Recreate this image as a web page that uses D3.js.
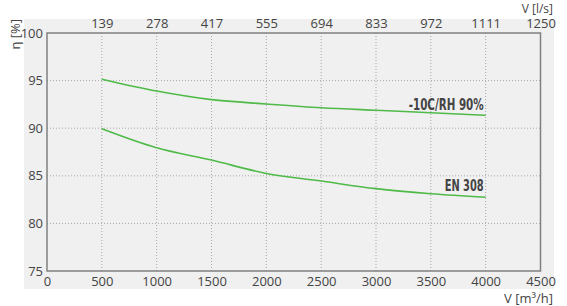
<!DOCTYPE html>
<html>
<head>
<meta charset="utf-8">
<script src="https://cdn.jsdelivr.net/npm/d3@7"></script>
<style>
  body { margin: 0; background: #fff; }
  text { font-family: "Open Sans", "Noto Sans", sans-serif; fill: #444; }
</style>
</head>
<body>
<svg width="567" height="306"></svg>
<script>
// airflow in m3/h
var flow = [500, 1000, 1500, 2000, 2500, 3000, 3500, 4000];
// efficiency [%]
var coldHumid = [95.15, 93.9, 93.0, 92.55, 92.15, 91.88, 91.63, 91.35];
var en308 = [89.95, 87.95, 86.65, 85.25, 84.45, 83.65, 83.12, 82.75];
var seriesNames = ["-10C/RH 90%", "EN 308"];

var bottomTicks = [0, 500, 1000, 1500, 2000, 2500, 3000, 3500, 4000, 4500];
var topTickLabels = ["139", "278", "417", "555", "694", "833", "972", "1111", "1250"];
var yTicks = [75, 80, 85, 90, 95, 100];

var svg = d3.select("svg");
var green = "#4fba48";

var x = d3.scaleLinear().domain([0, 4500]).range([47, 540.5]);
var y = d3.scaleLinear().domain([75, 100]).range([271, 33]);

// grey panel
svg.append("rect")
   .attr("x", 24).attr("y", 19)
   .attr("width", 530).attr("height", 270)
   .attr("fill", "#f0f0f0");

// dotted grid
svg.selectAll(".vgrid")
   .data(bottomTicks.slice(1, -1))
   .enter().append("line")
   .attr("x1", d => x(d)).attr("x2", d => x(d))
   .attr("y1", y(100)).attr("y2", y(75))
   .attr("stroke", "#a8a8a8")
   .attr("stroke-dasharray", "1,2");

svg.selectAll(".hgrid")
   .data(yTicks.slice(1, -1))
   .enter().append("line")
   .attr("x1", x(0)).attr("x2", x(4500))
   .attr("y1", d => y(d)).attr("y2", d => y(d))
   .attr("stroke", "#a8a8a8")
   .attr("stroke-dasharray", "1,2");

// frame
svg.append("rect")
   .attr("x", x(0)).attr("y", y(100))
   .attr("width", x(4500) - x(0)).attr("height", y(75) - y(100))
   .attr("fill", "none")
   .attr("stroke", "#808080")
   .attr("stroke-width", 1.5);

// axes (labels only, no tick marks)
var bottomAxis = d3.axisBottom(x).tickValues(bottomTicks).tickFormat(d3.format("d"))
   .tickSize(0).tickPadding(6);
var gb = svg.append("g").attr("transform", "translate(0," + y(75) + ")").call(bottomAxis);

var topAxis = d3.axisTop(x)
   .tickValues(bottomTicks.slice(1))
   .tickFormat((d, i) => topTickLabels[i])
   .tickSize(0).tickPadding(5);
var gt = svg.append("g").attr("transform", "translate(0," + y(100) + ")").call(topAxis);

var leftAxis = d3.axisLeft(y).tickValues(yTicks).tickSize(0).tickPadding(4);
var gl = svg.append("g").attr("transform", "translate(" + x(0) + ",0)").call(leftAxis);

[gb, gt, gl].forEach(function(g) {
  g.select(".domain").remove();
  g.selectAll("text")
   .attr("fill", "#444")
   .style("font-size", "13px")
   .style("font-family", "'Open Sans', sans-serif");
});

// curves
var line = d3.line()
   .x((d, i) => x(flow[i]))
   .y(d => y(d))
   .curve(d3.curveMonotoneX);

[coldHumid, en308].forEach(function(s) {
  svg.append("path")
     .attr("d", line(s))
     .attr("fill", "none")
     .attr("stroke", green)
     .attr("stroke-width", 1.6);
});

// series labels
var labelPos = [{y: 109.5, w: 75}, {y: 191, w: 39}];
seriesNames.forEach(function(name, i) {
  svg.append("text")
     .attr("x", x(4000) - 2 - labelPos[i].w).attr("y", labelPos[i].y)
     .attr("textLength", labelPos[i].w)
     .attr("lengthAdjust", "spacingAndGlyphs")
     .style("font-family", "'DejaVu Sans Condensed', 'DejaVu Sans', sans-serif")
     .style("font-weight", "bold")
     .style("font-size", "16px")
     .attr("fill", "#222")
     .text(name);
});

// axis titles
svg.append("text")
   .attr("x", 553).attr("y", 13)
   .attr("text-anchor", "end")
   .style("font-size", "12px")
   .attr("fill", "#777")
   .text("V [l/s]");

svg.append("text")
   .attr("x", 553).attr("y", 303)
   .attr("text-anchor", "end")
   .style("font-size", "13px")
   .attr("fill", "#777")
   .text("V [m³/h]");

svg.append("text")
   .attr("transform", "translate(20,19) rotate(-90)")
   .attr("text-anchor", "end")
   .style("font-size", "13px")
   .attr("fill", "#777")
   .text("η [%]");
</script>
</body>
</html>
